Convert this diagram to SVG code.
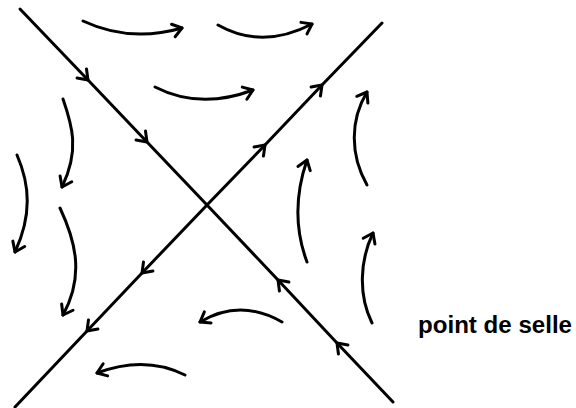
<svg xmlns="http://www.w3.org/2000/svg" width="576" height="408" viewBox="0 0 576 408">
<style>
.ln{fill:none;stroke:#000;stroke-width:3;stroke-linecap:round;stroke-linejoin:round}
.lbl{font-family:"Liberation Sans",Arial,sans-serif;font-weight:bold;font-size:23px;fill:#000}
</style>
<defs>
<marker id="chev" markerUnits="userSpaceOnUse" markerWidth="24" markerHeight="24" viewBox="-12 -12 24 24" refX="0" refY="0" orient="auto" overflow="visible">
<path d="M-9,-6.5 L0,0 L-9,6.5" fill="none" stroke="#000" stroke-width="3" stroke-linecap="round" stroke-linejoin="round"/>
</marker>
</defs>
<rect width="576" height="408" fill="#fff"/>
<g id="connectors">
<path class="ln" d="M20,9 L88,80 L147,142 L207,205" marker-mid="url(#chev)"/>
<path class="ln" d="M393,402 L337,343 L278,280 L207,205" marker-mid="url(#chev)"/>
<path class="ln" d="M207,205 L265,145 L322,85 L382,23" marker-mid="url(#chev)"/>
<path class="ln" d="M207,205 L142,273 L87,331 L15,407" marker-mid="url(#chev)"/>
<path class="ln" d="M83,21 Q130,43 182,28" marker-end="url(#chev)"/>
<path class="ln" d="M218,25 Q262,50 312,24" marker-end="url(#chev)"/>
<path class="ln" d="M155,87 Q200,110 253,90" marker-end="url(#chev)"/>
<path class="ln" d="M63,99 C72,125 80,150 62,187" marker-end="url(#chev)"/>
<path class="ln" d="M17,155 C30,185 32,215 15,252" marker-end="url(#chev)"/>
<path class="ln" d="M60,208 C75,240 85,275 63,315" marker-end="url(#chev)"/>
<path class="ln" d="M185,375 Q145,355 97,373" marker-end="url(#chev)"/>
<path class="ln" d="M282,322 Q240,298 200,322" marker-end="url(#chev)"/>
<path class="ln" d="M307,262 C295,230 295,195 307,160" marker-end="url(#chev)"/>
<path class="ln" d="M367,185 C350,155 350,120 367,92" marker-end="url(#chev)"/>
<path class="ln" d="M372,323 C358,295 360,260 373,233" marker-end="url(#chev)"/>
</g>
<g id="label">
<text class="lbl" x="418" y="333" textLength="154" lengthAdjust="spacingAndGlyphs">point de selle</text>
</g>
</svg>
